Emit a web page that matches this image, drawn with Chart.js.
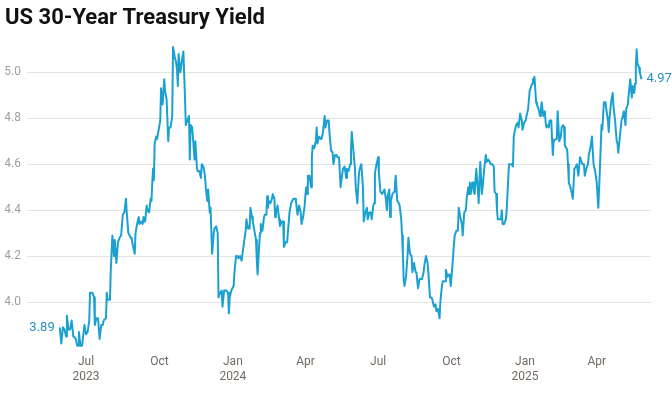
<!DOCTYPE html>
<html>
<head>
<meta charset="utf-8">
<script src="https://cdn.jsdelivr.net/npm/chart.js@4.4.1/dist/chart.umd.min.js"></script>
<style>
html, body { margin: 0; padding: 0; background: #fff; }
</style>
</head>
<body>
<canvas id="chart" width="672" height="399"></canvas>
<script>
// days counted from 1 Jul 2023
const days = [
  -33, -31, -29, -27, -25, -24, -22, -20, -18, -16, -15, -13, -11, -10, -9, -7, -5, -4, -2, 0,
  2, 4, 5, 8, 10, 11, 13, 15, 17, 19, 21, 22, 25, 26, 27, 30, 31, 33, 35, 36,
  38, 40, 42, 44, 46, 48, 50, 51, 53, 56, 57, 59, 61, 62, 64, 66, 67, 69, 71, 72,
  74, 76, 77, 79, 81, 82, 83, 84, 85, 86, 88, 89, 91, 93, 94, 96, 98, 99, 101, 103,
  104, 106, 108, 109, 111, 113, 114, 115, 116, 118, 119, 121, 122, 124, 125, 127, 129, 130, 131, 133,
  134, 136, 137, 139, 140, 142, 144, 145, 147, 149, 150, 152, 153, 155, 156, 158, 160, 161, 163, 165,
  166, 168, 170, 171, 173, 175, 176, 178, 179, 180, 182, 185, 186, 188, 190, 191, 193, 195, 196, 198,
  200, 201, 203, 205, 206, 208, 209, 211, 213, 214, 215, 217, 218, 219, 221, 223, 224, 226, 227, 228,
  229, 231, 233, 234, 236, 237, 238, 240, 242, 243, 245, 247, 248, 250, 252, 253, 255, 257, 258, 260,
  262, 263, 265, 267, 269, 270, 272, 274, 275, 276, 277, 278, 279, 280, 282, 283, 284, 286, 288, 289,
  290, 292, 294, 295, 297, 299, 300, 302, 304, 305, 307, 309, 310, 312, 314, 315, 317, 319, 320, 322,
  324, 326, 327, 329, 331, 332, 333, 335, 337, 338, 340, 342, 343, 345, 347, 348, 350, 352, 353, 355,
  357, 358, 360, 361, 362, 364, 366, 367, 369, 371, 372, 374, 376, 377, 378, 380, 381, 382, 384, 386,
  387, 388, 390, 392, 393, 395, 396, 397, 398, 399, 401, 403, 404, 406, 408, 409, 411, 413, 414, 416,
  418, 419, 421, 423, 424, 426, 428, 429, 431, 433, 434, 436, 438, 439, 441, 443, 444, 446, 447, 449,
  450, 451, 453, 455, 456, 457, 459, 461, 462, 464, 466, 467, 469, 471, 472, 474, 476, 477, 479, 480,
  481, 482, 484, 485, 486, 487, 489, 491, 492, 494, 496, 497, 499, 501, 502, 504, 506, 507, 509, 511,
  512, 514, 515, 516, 518, 520, 521, 522, 524, 526, 527, 528, 530, 532, 533, 535, 536, 537, 539, 541,
  542, 544, 546, 547, 549, 551, 552, 554, 556, 557, 559, 560, 561, 562, 564, 565, 567, 569, 570, 571,
  573, 575, 576, 577, 579, 580, 581, 583, 584, 585, 586, 589, 590, 591, 593, 595, 596, 598, 599, 600,
  602, 603, 604, 605, 607, 609, 610, 612, 614, 615, 617, 619, 620, 622, 624, 625, 627, 629, 630, 632,
  634, 635, 636, 638, 640, 641, 642, 644, 646, 647, 649, 651, 652, 654, 655, 656, 658, 660, 661, 663,
  665, 666, 667, 669, 671, 672, 674, 676, 677, 679, 680, 682, 684, 685, 687, 688, 689, 690, 691, 693,
  694, 696
];
const yields = [
  3.89, 3.82, 3.89, 3.88, 3.85, 3.94, 3.88, 3.88, 3.92, 3.85, 3.85, 3.84, 3.81, 3.81, 3.87, 3.81, 3.81, 3.81, 3.90, 3.86,
  3.87, 3.92, 4.04, 4.04, 4.02, 3.90, 3.93, 3.93, 3.84, 3.90, 3.90, 3.92, 3.93, 4.04, 4.01, 4.01, 4.14, 4.29, 4.20, 4.27,
  4.17, 4.26, 4.28, 4.29, 4.38, 4.39, 4.45, 4.39, 4.30, 4.28, 4.28, 4.24, 4.21, 4.30, 4.34, 4.37, 4.34, 4.35, 4.34, 4.37,
  4.35, 4.42, 4.40, 4.39, 4.45, 4.44, 4.52, 4.58, 4.53, 4.69, 4.72, 4.71, 4.75, 4.79, 4.93, 4.86, 4.97, 4.92, 4.88, 4.70,
  4.76, 4.76, 4.81, 5.11, 5.07, 5.04, 5.01, 4.94, 5.08, 5.00, 5.02, 5.07, 5.09, 4.89, 4.77, 4.79, 4.81, 4.62, 4.77, 4.76,
  4.76, 4.62, 4.70, 4.58, 4.57, 4.57, 4.54, 4.60, 4.59, 4.55, 4.50, 4.44, 4.49, 4.39, 4.41, 4.21, 4.30, 4.32, 4.33, 4.30,
  4.02, 4.04, 4.05, 3.98, 4.05, 4.05, 4.05, 4.04, 3.95, 4.02, 4.05, 4.07, 4.13, 4.20, 4.20, 4.19, 4.20, 4.18, 4.21, 4.26,
  4.31, 4.36, 4.32, 4.32, 4.41, 4.37, 4.35, 4.31, 4.27, 4.18, 4.12, 4.25, 4.30, 4.34, 4.31, 4.37, 4.38, 4.38, 4.46, 4.41,
  4.44, 4.43, 4.45, 4.47, 4.45, 4.37, 4.39, 4.42, 4.36, 4.33, 4.35, 4.35, 4.24, 4.26, 4.26, 4.26, 4.39, 4.43, 4.43, 4.45,
  4.45, 4.44, 4.38, 4.42, 4.39, 4.34, 4.37, 4.42, 4.47, 4.50, 4.47, 4.55, 4.55, 4.55, 4.50, 4.63, 4.68, 4.67, 4.70, 4.76,
  4.69, 4.72, 4.71, 4.71, 4.74, 4.81, 4.76, 4.79, 4.79, 4.74, 4.66, 4.65, 4.60, 4.64, 4.64, 4.63, 4.63, 4.50, 4.53, 4.58,
  4.59, 4.54, 4.58, 4.57, 4.60, 4.66, 4.74, 4.66, 4.58, 4.50, 4.43, 4.56, 4.58, 4.60, 4.50, 4.35, 4.39, 4.41, 4.36, 4.39,
  4.39, 4.36, 4.42, 4.43, 4.56, 4.60, 4.63, 4.56, 4.48, 4.47, 4.47, 4.49, 4.44, 4.40, 4.46, 4.49, 4.37, 4.44, 4.47, 4.48,
  4.50, 4.55, 4.44, 4.43, 4.42, 4.36, 4.29, 4.21, 4.10, 4.07, 4.11, 4.21, 4.28, 4.21, 4.20, 4.13, 4.17, 4.13, 4.13, 4.06,
  4.10, 4.10, 4.10, 4.13, 4.16, 4.20, 4.17, 4.13, 4.02, 4.02, 4.01, 3.98, 3.99, 3.96, 3.97, 3.93, 4.00, 4.07, 4.09, 4.09,
  4.09, 4.14, 4.11, 4.12, 4.11, 4.07, 4.15, 4.25, 4.29, 4.31, 4.31, 4.41, 4.37, 4.34, 4.29, 4.39, 4.40, 4.45, 4.50, 4.47,
  4.52, 4.47, 4.52, 4.52, 4.48, 4.47, 4.58, 4.49, 4.43, 4.61, 4.47, 4.50, 4.58, 4.64, 4.61, 4.62, 4.61, 4.60, 4.60, 4.59,
  4.48, 4.47, 4.40, 4.36, 4.36, 4.36, 4.40, 4.34, 4.34, 4.36, 4.39, 4.46, 4.60, 4.60, 4.60, 4.59, 4.72, 4.74, 4.77, 4.78,
  4.76, 4.82, 4.79, 4.75, 4.78, 4.79, 4.81, 4.84, 4.92, 4.93, 4.95, 4.97, 4.97, 4.98, 4.87, 4.86, 4.84, 4.81, 4.84, 4.87,
  4.81, 4.83, 4.78, 4.76, 4.77, 4.76, 4.79, 4.79, 4.71, 4.64, 4.70, 4.71, 4.72, 4.83, 4.70, 4.72, 4.76, 4.77, 4.76, 4.68,
  4.67, 4.66, 4.60, 4.52, 4.50, 4.47, 4.45, 4.58, 4.59, 4.60, 4.55, 4.63, 4.62, 4.60, 4.60, 4.55, 4.58, 4.60, 4.64, 4.67,
  4.72, 4.66, 4.60, 4.57, 4.52, 4.46, 4.41, 4.58, 4.77, 4.75, 4.87, 4.87, 4.84, 4.79, 4.74, 4.80, 4.87, 4.91, 4.85, 4.79,
  4.70, 4.69, 4.65, 4.72, 4.79, 4.80, 4.83, 4.77, 4.84, 4.86, 4.90, 4.97, 4.89, 4.94, 4.91, 4.95, 5.02, 5.10, 5.04, 5.02,
  5.00, 4.97
];

const tickDates = ['2023-07-01', '2023-10-01', '2024-01-01', '2024-04-01', '2024-07-01', '2024-10-01', '2025-01-01', '2025-04-01'];
const tickMonths = ['Jul', 'Oct', 'Jan', 'Apr', 'Jul', 'Oct', 'Jan', 'Apr'];
const tickYears = ['2023', '', '2024', '', '', '', '2025', ''];
const yTicks = [4.0, 4.2, 4.4, 4.6, 4.8, 5.0];

const LINE = '#1ba1d1';
const LABEL = '#2591c2';

const DAY0 = Date.UTC(2023, 6, 1);
function dayOf(s) {
    const p = s.split('-');
    return Math.round((Date.UTC(+p[0], +p[1] - 1, +p[2]) - DAY0) / 86400000);
}
const tickDays = tickDates.map(dayOf);

// first and last value written next to the line
const endLabels = {
    id: 'endLabels',
    afterDatasetsDraw(chart) {
        const pts = chart.getDatasetMeta(0).data;
        const first = pts[0], last = pts[pts.length - 1];
        const ctx = chart.ctx;
        ctx.save();
        ctx.font = '13px Roboto';
        ctx.fillStyle = LABEL;
        ctx.textBaseline = 'middle';
        ctx.textAlign = 'right';
        ctx.fillText(yields[0].toFixed(2), first.x - 5, first.y);
        ctx.textAlign = 'left';
        ctx.fillText(yields[yields.length - 1].toFixed(2), last.x + 5, last.y);
        ctx.restore();
    }
};

new Chart(document.getElementById('chart'), {
    type: 'line',
    data: {
        datasets: [{
            data: days.map((d, i) => ({x: d, y: yields[i]})),
            borderColor: LINE,
            borderWidth: 2,
            borderJoinStyle: 'round',
            pointRadius: 0,
            tension: 0,
            fill: false
        }]
    },
    options: {
        responsive: false,
        animation: false,
        layout: {padding: {left: 5, right: 21, top: 0, bottom: 0}},
        plugins: {
            legend: {display: false},
            tooltip: {enabled: false},
            title: {
                display: true,
                text: 'US 30-Year Treasury Yield',
                align: 'start',
                color: '#111',
                font: {family: 'Roboto', size: 22, weight: 'bold'},
                padding: {top: 5, bottom: 12.6}
            }
        },
        scales: {
            x: {
                type: 'linear',
                min: -74,
                max: 708,
                grid: {display: false, drawTicks: false},
                border: {display: false},
                afterBuildTicks: s => { s.ticks = tickDays.map(v => ({value: v})); },
                afterFit: s => { s.height = 51; },
                ticks: {
                    autoSkip: false,
                    maxRotation: 0,
                    padding: 6,
                    color: '#756a63',
                    font: {family: 'Roboto', size: 12, lineHeight: 1.25},
                    callback: (v, i) => tickYears[i] ? [tickMonths[i], tickYears[i]] : tickMonths[i]
                }
            },
            y: {
                min: 3.8,
                max: 5.123,
                grid: {color: '#e3e3e3', drawTicks: false},
                border: {display: false},
                afterBuildTicks: s => { s.ticks = yTicks.map(v => ({value: v})); },
                afterFit: s => { s.width = 22; },
                ticks: {
                    padding: 6,
                    color: '#a39d9a',
                    font: {family: 'Roboto', size: 12},
                    callback: v => v.toFixed(1)
                }
            }
        }
    },
    plugins: [endLabels]
});
</script>
</body>
</html>
